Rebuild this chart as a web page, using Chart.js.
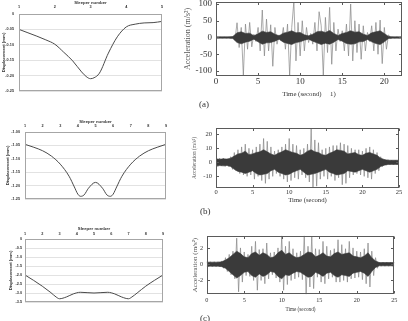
<!DOCTYPE html>
<html>
<head>
<meta charset="utf-8">
<script src="https://cdn.jsdelivr.net/npm/chart.js@4.4.1/dist/chart.umd.min.js"></script>
<style>
  body { margin: 0; background: #fff; }
  #wrap { position: relative; width: 408px; height: 321px; overflow: hidden; }
  canvas { position: absolute; left: 0; top: 0; }
  .tag { position: absolute; font: 9px "Liberation Serif", serif; color: #333; }
</style>
</head>
<body>
<div id="wrap">
  <canvas id="disp-a" width="408" height="321"></canvas>
  <canvas id="disp-b" width="408" height="321"></canvas>
  <canvas id="disp-c" width="408" height="321"></canvas>
  <canvas id="acc-a" width="408" height="321"></canvas>
  <canvas id="acc-b" width="408" height="321"></canvas>
  <canvas id="acc-c" width="408" height="321"></canvas>
  <span class="tag" style="left:199px;top:99px">(a)</span>
  <span class="tag" style="left:200px;top:206px">(b)</span>
  <span class="tag" style="left:200px;top:313px">(c)</span>
</div>
<script>
// displacement under sleepers (left column)
const sleeperA = [1, 1.25, 1.5, 1.75, 2, 2.25, 2.5, 2.75, 2.9, 3, 3.1, 3.25, 3.5, 3.75, 4, 4.25, 4.5, 4.75, 5];
const dispA = [-0.05, -0.061, -0.072, -0.084, -0.098, -0.124, -0.152, -0.188, -0.205, -0.21, -0.207, -0.192, -0.127, -0.074, -0.042, -0.033, -0.029, -0.028, -0.024];

const sleeperB = [1, 1.5, 2, 2.5, 3, 3.5, 3.8, 4, 4.15, 4.35, 4.6, 5, 5.4, 5.65, 5.85, 6, 6.2, 6.5, 7, 7.5, 8, 8.5, 9];
const dispB = [-1.046, -1.057, -1.07, -1.09, -1.12, -1.165, -1.205, -1.232, -1.24, -1.235, -1.21, -1.188, -1.21, -1.235, -1.24, -1.232, -1.205, -1.165, -1.12, -1.09, -1.07, -1.057, -1.046];

const sleeperC = [1, 1.5, 2, 2.5, 2.8, 3, 3.4, 3.8, 4.2, 4.6, 5, 5.4, 5.8, 6.2, 6.6, 7, 7.2, 7.5, 8, 8.5, 9];
const dispC = [-2, -2.3, -2.62, -2.98, -3.22, -3.32, -3.22, -3.05, -2.96, -2.98, -3.0, -2.98, -2.96, -3.05, -3.22, -3.32, -3.22, -3.0, -2.62, -2.3, -2];

// acceleration records (right column)
// dense core envelope every 0.5 s
const coreTA = [0, 0.5, 1, 1.5, 2, 2.5, 3, 3.5, 4, 4.5, 5, 5.5, 6, 6.5, 7, 7.5, 8, 8.5, 9, 9.5, 10, 10.5, 11, 11.5, 12, 12.5, 13, 13.5, 14, 14.5, 15, 15.5, 16, 16.5, 17, 17.5, 18, 18.5, 19, 19.5, 20, 20.5, 21, 21.5, 22];
const coreHiA = [2, 2, 2, 2, 3, 14, 17, 12, 13, 5, 11, 19, 15, 17, 10, 5, 13, 16, 20, 14, 15, 8, 5, 10, 17, 19, 15, 21, 12, 6, 12, 15, 20, 16, 17, 10, 6, 14, 17, 20, 12, 3, 2, 2, 2];
const coreLoA = [-2, -2, -2, -2, -3, -15, -19, -14, -11, -5, -13, -20, -16, -15, -11, -5, -14, -18, -21, -15, -13, -8, -5, -11, -16, -21, -17, -20, -14, -6, -11, -18, -20, -19, -13, -12, -6, -13, -18, -21, -13, -3, -2, -2, -2];
// signal samples every 0.25 s (the lighter spiky trace)
const sigTA = [0, 0.25, 0.5, 0.75, 1, 1.25, 1.5, 1.75, 2, 2.25, 2.5, 2.75, 3, 3.25, 3.5, 3.75, 4, 4.25, 4.5, 4.75, 5, 5.25, 5.5, 5.75, 6, 6.25, 6.5, 6.75, 7, 7.25, 7.5, 7.75, 8, 8.25, 8.5, 8.75, 9, 9.25, 9.5, 9.75, 10, 10.25, 10.5, 10.75, 11, 11.25, 11.5, 11.75, 12, 12.25, 12.5, 12.75, 13, 13.25, 13.5, 13.75, 14, 14.25, 14.5, 14.75, 15, 15.25, 15.5, 15.75, 16, 16.25, 16.5, 16.75, 17, 17.25, 17.5, 17.75, 18, 18.25, 18.5, 18.75, 19, 19.25, 19.5, 19.75, 20, 20.25, 20.5, 20.75, 21, 21.25, 21.5, 21.75, 22];
const sigA = [1, -1, 1, -1, 1, -1, 1, -1, 2, -8, 44, -30, 30, -113, 40, -35, 45, -28, 10, -12, 30, -40, 82, -55, 55, -40, 38, -86, 30, -20, 8, -10, 30, -35, 40, -113, 30, 107, -70, 45, -55, 50, -40, 30, -15, 12, -20, 45, -40, 77, 35, -113, 60, -45, 90, -80, 45, -40, 25, -12, 20, -40, 40, -55, 100, -70, 50, -45, 40, -65, 35, -40, 15, -12, 35, -40, 45, -50, 52, -78, 30, -35, 8, -3, 1.5, -1.5, 1.5, -1.5, 1.5];

const coreTB = [0, 0.5, 1, 1.5, 2, 2.5, 3, 3.5, 4, 4.5, 5, 5.5, 6, 6.5, 7, 7.5, 8, 8.5, 9, 9.5, 10, 10.5, 11, 11.5, 12, 12.5, 13, 13.5, 14, 14.5, 15, 15.5, 16, 16.5, 17, 17.5, 18, 18.5, 19, 19.5, 20, 20.5, 21, 21.5, 22, 22.5, 23, 23.5, 24, 24.5, 25];
const coreHiB = [2.5, 2.2, 2.5, 2.3, 3, 4.5, 6, 6.5, 8, 5.5, 6, 7, 7.5, 9, 7.5, 6, 5, 6.5, 7.5, 9, 8, 7, 6.5, 5, 6, 8, 9, 7.5, 7, 5.5, 5, 6.5, 7.5, 9, 8.5, 8, 6, 6.5, 7, 5.5, 5, 6.5, 7, 6, 5, 3, 2, 1.5, 1.5, 1.5, 1.5];
const coreLoB = [-2.5, -2.3, -2.5, -2.2, -3, -5, -6.5, -7, -8, -7, -6, -8, -9, -8.5, -8, -6, -5, -7, -8, -9, -8.5, -7, -6, -5, -7, -9, -8.5, -8, -7, -6, -5, -7, -8, -9, -8.5, -8, -6, -6.5, -7, -6, -5, -6, -7, -6, -5, -3, -2, -1.5, -1.5, -1.5, -1.5];
const sigTB = [0, 0.25, 0.5, 0.75, 1, 1.25, 1.5, 1.75, 2, 2.25, 2.5, 2.75, 3, 3.25, 3.5, 3.75, 4, 4.25, 4.5, 4.75, 5, 5.25, 5.5, 5.75, 6, 6.25, 6.5, 6.75, 7, 7.25, 7.5, 7.75, 8, 8.25, 8.5, 8.75, 9, 9.25, 9.5, 9.75, 10, 10.25, 10.5, 10.75, 11, 11.25, 11.5, 11.75, 12, 12.25, 12.5, 12.75, 13, 13.25, 13.5, 13.75, 14, 14.25, 14.5, 14.75, 15, 15.25, 15.5, 15.75, 16, 16.25, 16.5, 16.75, 17, 17.25, 17.5, 17.75, 18, 18.25, 18.5, 18.75, 19, 19.25, 19.5, 19.75, 20, 20.25, 20.5, 20.75, 21, 21.25, 21.5, 21.75, 22, 22.25, 22.5, 22.75, 23, 23.25, 23.5, 23.75, 24, 24.25, 24.5, 24.75, 25];
const sigB = [3, -3, 3, -2.5, 3, -3, 2.5, -3, 4, -5, 7, -6, 9, -8, 11, -9, 13, -10, 10, -9, 9, -12, 11, -10, 13, -13, 17, -15, 15, -12, 11, -10, 8, -8, 9, -10, 11, -12, 13, -14, 17, -13, 13, -11, 12, -12, 9, -9, 10, -11, 13, -14, 24, -18, 16, -17, 14, -12, 9, -10, 10, -12, 11, -10, 12, -13, 12, -11, 14, -16, 13, -15, 12, -11, 10, -9, 9, -8, 9, -9, 8, -10, 10, -11, 11, -12, 9, -8, 7, -6, 4, -3, 2, -2, 2, -1.5, 1.5, -1.5, 1.5, -1.5, 1.5];

const coreTC = coreTB;
const coreHiC = [0.25, 0.25, 0.25, 0.25, 0.3, 0.5, 0.8, 1.2, 1.6, 1.3, 0.9, 0.8, 1.3, 1.5, 1.1, 1.4, 1.2, 0.8, 0.9, 1.4, 1.7, 1.2, 1.4, 1.0, 0.8, 0.9, 1.2, 1.5, 1.4, 0.9, 1.1, 1.4, 1.0, 0.9, 1.3, 1.5, 1.2, 1.3, 1.4, 1.0, 0.9, 0.8, 1.0, 1.4, 0.8, 0.4, 0.2, 0.2, 0.2, 0.2, 0.2];
const coreLoC = [-0.25, -0.25, -0.25, -0.25, -0.3, -0.5, -0.9, -1.3, -1.7, -1.4, -1.0, -0.9, -1.4, -1.6, -1.2, -1.5, -1.3, -0.9, -1.0, -1.5, -1.8, -1.3, -1.4, -1.1, -0.9, -1.0, -1.3, -1.6, -1.5, -1.0, -1.2, -1.5, -1.1, -1.0, -1.4, -1.6, -1.3, -1.4, -1.5, -1.1, -1.0, -0.9, -1.1, -1.5, -0.9, -0.4, -0.2, -0.2, -0.2, -0.2, -0.2];
const sigTC = sigTB;
const sigC = [0.3, -0.3, 0.3, -0.3, 0.3, -0.3, 0.3, -0.3, 0.4, -0.5, 0.8, -0.9, 1.2, -1.3, 1.6, -1.8, 3.2, -3.4, 2.0, -2.2, 1.5, -1.4, 1.2, -1.5, 2.2, -2.0, 2.8, -3.2, 1.8, -2.0, 1.9, -2.4, 2.6, -1.8, 1.4, -1.3, 1.5, -1.7, 2.0, -2.2, 3.5, -3.2, 2.2, -2.5, 2.8, -2.0, 1.9, -1.8, 1.4, -1.6, 1.6, -1.9, 3.5, -3.7, 2.2, -2.8, 3.4, -3.0, 1.9, -1.6, 1.8, -2.2, 2.8, -2.4, 2.2, -1.8, 1.7, -1.6, 1.9, -2.2, 3.0, -2.2, 2.4, -2.0, 1.9, -2.2, 2.8, -1.8, 2.0, -1.7, 1.6, -1.6, 1.5, -1.9, 1.9, -2.4, 2.6, -2.8, 1.6, -1.4, 0.8, -0.5, 0.25, -0.25, 0.25, -0.25, 0.25, -0.25, 0.25, -0.25, 0.25];

const W = 408, H = 321;
const SANS = '"Liberation Sans", Arial, sans-serif';
const SERIF = '"Liberation Serif", "Times New Roman", serif';

// layout padding so that the plot area lands on box = [left, top, right, bottom]
function pad(box, yw, xh, xTop) {
  return xTop
    ? { left: box[0] - yw, top: box[1] - xh, right: W - box[2], bottom: H - box[3] }
    : { left: box[0] - yw, top: box[1], right: W - box[2], bottom: H - box[3] - xh };
}
const fixW = w => s => { s.width = w; s.paddingTop = 0; s.paddingBottom = 0; };
const fixH = h => s => { s.height = h; s.paddingLeft = 0; s.paddingRight = 0; };

// plot frame, with MATLAB-like inward ticks when asked
const frame = {
  id: 'frame',
  afterDatasetsDraw(chart, args, opts) {
    const { ctx, chartArea: a, scales } = chart;
    const l = Math.round(a.left) + 0.5, t = Math.round(a.top) + 0.5;
    const r = Math.round(a.right) - 0.5, b = Math.round(a.bottom) - 0.5;
    ctx.save();
    ctx.strokeStyle = opts.color;
    ctx.lineWidth = 1;
    ctx.strokeRect(l, t, r - l, b - t);
    if (opts.ticks) {
      ctx.beginPath();
      scales.x.ticks.forEach(tk => {
        const px = Math.round(scales.x.getPixelForValue(tk.value)) + 0.5;
        ctx.moveTo(px, b); ctx.lineTo(px, b - 2.5);
        ctx.moveTo(px, t); ctx.lineTo(px, t + 2.5);
      });
      scales.y.ticks.forEach(tk => {
        const py = Math.round(scales.y.getPixelForValue(tk.value)) + 0.5;
        ctx.moveTo(l, py); ctx.lineTo(l + 2.5, py);
        ctx.moveTo(r, py); ctx.lineTo(r - 2.5, py);
      });
      ctx.stroke();
    }
    ctx.restore();
  }
};

function sleeperChart(id, box, s, xs, ys) {
  return new Chart(document.getElementById(id), {
    type: 'line',
    data: {
      datasets: [{
        data: xs.map((x, i) => ({ x, y: ys[i] })),
        borderColor: '#4a4a4a',
        borderWidth: 1,
        pointRadius: 0,
        cubicInterpolationMode: 'monotone'
      }]
    },
    options: {
      responsive: false,
      animation: false,
      events: [],
      layout: { padding: pad(box, s.yw, s.xh, true) },
      plugins: { legend: { display: false }, tooltip: { enabled: false }, frame: { color: '#a6a6a6' } },
      scales: {
        x: {
          type: 'linear', position: 'top', min: 1, max: xs[xs.length - 1],
          afterFit: fixH(s.xh),
          grid: { display: false, drawTicks: false }, border: { display: false },
          ticks: { stepSize: 1, padding: s.xPad, color: '#333', font: { family: SANS, size: 3.8, weight: 'bold' } },
          title: { display: true, text: 'Sleeper number', padding: 0, color: '#333', font: { family: SANS, size: 4.3, weight: 'bold' } }
        },
        y: {
          min: s.yMin, max: s.yMax,
          afterFit: fixW(s.yw),
          grid: { color: '#e2e2e2', drawTicks: false }, border: { display: false },
          ticks: { stepSize: s.yStep, padding: s.yPad, color: '#333', font: { family: SANS, size: 3.8, weight: 'bold' } },
          title: { display: true, text: 'Displacement (mm)', padding: 0, color: '#333', font: { family: SANS, size: 4.3, weight: 'bold' } }
        }
      }
    },
    plugins: [frame]
  });
}

function accelChart(id, box, s, sig) {
  return new Chart(document.getElementById(id), {
    type: 'line',
    data: {
      datasets: [
        {
          data: sig.ct.map((t, i) => ({ x: t, y: sig.hi[i] })),
          borderColor: '#3a3a3a', backgroundColor: '#3a3a3a', borderWidth: 0.6,
          pointRadius: 0, fill: '+1', order: 1
        },
        {
          data: sig.ct.map((t, i) => ({ x: t, y: sig.lo[i] })),
          borderColor: '#3a3a3a', borderWidth: 0.6,
          pointRadius: 0, fill: false, order: 1
        },
        {
          data: sig.st.map((t, i) => ({ x: t, y: sig.v[i] })),
          borderColor: '#858585', borderWidth: 0.7,
          pointRadius: 0, fill: false, order: 2
        }
      ]
    },
    options: {
      responsive: false,
      animation: false,
      events: [],
      layout: { padding: pad(box, s.yw, s.xh, false) },
      plugins: { legend: { display: false }, tooltip: { enabled: false }, frame: { color: '#5a5a5a', ticks: true } },
      scales: {
        x: {
          type: 'linear', min: 0, max: s.xMax,
          afterFit: fixH(s.xh),
          grid: { display: false, drawTicks: false }, border: { display: false },
          ticks: { stepSize: 5, includeBounds: false, padding: s.xPad, color: '#333', font: { family: SERIF, size: s.tick } },
          title: { display: true, text: s.xTitle, padding: 0, color: '#333', font: { family: SERIF, size: s.title } }
        },
        y: {
          min: s.yMin, max: s.yMax,
          afterFit: fixW(s.yw),
          grid: { display: false, drawTicks: false }, border: { display: false },
          ticks: { stepSize: s.yStep, includeBounds: false, padding: s.yPad, color: '#333', font: { family: SERIF, size: s.tick } },
          title: { display: true, text: 'Acceleration (m/s²)', padding: 0, color: '#555', font: { family: SERIF, size: s.yTitle } }
        }
      }
    },
    plugins: [frame]
  });
}

sleeperChart('disp-a', [19, 14, 162, 91], { yw: 18.1, xh: 13.3, yPad: 5, xPad: 4.7, yMin: -0.25, yMax: 0, yStep: 0.05 }, sleeperA, dispA);
sleeperChart('disp-b', [25, 132, 166, 199], { yw: 19.3, xh: 12.9, yPad: 5, xPad: 4, yMin: -1.25, yMax: -1, yStep: 0.05 }, sleeperB, dispB);
sleeperChart('disp-c', [25, 239, 163, 302], { yw: 16.6, xh: 12.6, yPad: 3, xPad: 2.7, yMin: -3.5, yMax: 0, yStep: 0.5 }, sleeperC, dispC);

accelChart('acc-a', [216, 2, 402, 76],
  { yw: 32.8, xh: 22.1, xPad: 0.3, yPad: 4, tick: 9, title: 6.8, yTitle: 8, xMax: 22.1, yMin: -115, yMax: 106, yStep: 50, xTitle: 'Time (second)     1)' },
  { ct: coreTA, hi: coreHiA, lo: coreLoA, st: sigTA, v: sigA });
accelChart('acc-b', [216, 128.3, 399, 187.7],
  { yw: 24.25, xh: 16.3, xPad: 1.1, yPad: 4, tick: 6.5, title: 6.7, yTitle: 5.4, xMax: 25, yMin: -18.1, yMax: 24.3, yStep: 10, xTitle: 'Time (second)' },
  { ct: coreTB, hi: coreHiB, lo: coreLoB, st: sigTB, v: sigB });
accelChart('acc-c', [206.7, 235.7, 394.3, 294.3],
  { yw: 15.9, xh: 18.1, xPad: 2, yPad: 3.5, tick: 6.2, title: 5.2, yTitle: 7, xMax: 25, yMin: -3.7, yMax: 3.5, yStep: 2, xTitle: 'Time (second)' },
  { ct: coreTC, hi: coreHiC, lo: coreLoC, st: sigTC, v: sigC });
</script>
</body>
</html>
